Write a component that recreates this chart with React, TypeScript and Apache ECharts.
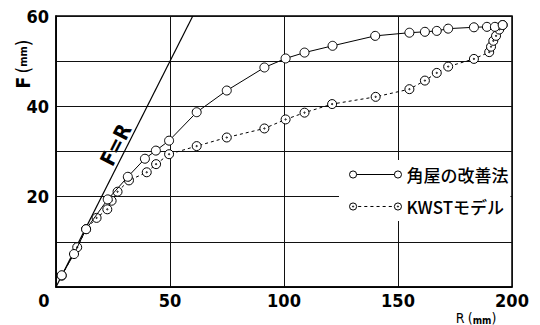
import React, { useEffect, useRef } from 'react';
import * as echarts from 'echarts';

// 角屋の改善法 (solid line)
const kadoyaR = [2.5, 7.9, 13.2, 22.7, 31.5, 39.0, 43.8, 49.6, 61.7, 74.9, 91.4, 100.7, 109.0, 121.3, 140.0, 155.0, 161.8, 167.0, 172.0, 183.3, 189.0, 192.5, 195.9];
const kadoyaF = [2.6, 7.3, 12.8, 19.4, 24.4, 28.4, 30.2, 32.4, 38.7, 43.5, 48.6, 50.6, 51.9, 53.4, 55.6, 56.3, 56.5, 56.7, 57.2, 57.5, 57.6, 57.6, 58.0];
// KWSTモデル (dotted line)
const kwstR = [2.5, 9.3, 13.2, 17.8, 22.5, 24.4, 27.0, 32.0, 39.8, 43.9, 49.6, 61.7, 74.9, 91.4, 100.7, 109.0, 121.1, 140.2, 155.0, 161.8, 167.0, 172.0, 183.3, 190.0, 190.8, 191.8, 193.0, 194.4, 195.9];
const kwstF = [2.5, 8.8, 12.8, 15.3, 17.2, 19.1, 21.1, 23.6, 25.4, 27.2, 29.4, 31.2, 33.1, 35.1, 37.1, 38.6, 40.5, 42.1, 43.8, 45.7, 47.4, 48.8, 50.5, 52.0, 53.2, 54.5, 55.6, 57.0, 58.0];
// F = R reference line
const refR = [0, 60];
const refF = [0, 60];

const seriesNames = ['角屋の改善法', 'KWSTモデル'];
const xTicks = [0, 50, 100, 150, 200];
const yLabelTicks = [20, 40, 60];

const zip = (a: number[], b: number[]) => a.map((v, i) => [v, b[i]]);

const NUM_FONT = "'Liberation Sans Narrow', 'DejaVu Sans Condensed', Roboto, sans-serif";
const CJK_FONT = "'Noto Sans CJK JP', 'Noto Sans', sans-serif";

const dotCircle = 'path://M0,5a5,5 0 1,0 10,0a5,5 0 1,0 -10,0M4.3,5a0.7,0.7 0 1,0 1.4,0a0.7,0.7 0 1,0 -1.4,0';
const legendSolid = 'path://M0.5,4a3.5,3.5 0 1,0 7,0a3.5,3.5 0 1,0 -7,0M7.5,4L44.5,4M44.5,4a3.5,3.5 0 1,0 7,0a3.5,3.5 0 1,0 -7,0';
const legendDotted = 'path://M0.5,4a3.5,3.5 0 1,0 7,0a3.5,3.5 0 1,0 -7,0M3.4,4a0.6,0.6 0 1,0 1.2,0a0.6,0.6 0 1,0 -1.2,0'
  + 'M9,4L12,4M15,4L18,4M21,4L24,4M27,4L30,4M33,4L36,4M39,4L42,4'
  + 'M44.5,4a3.5,3.5 0 1,0 7,0a3.5,3.5 0 1,0 -7,0M47.4,4a0.6,0.6 0 1,0 1.2,0a0.6,0.6 0 1,0 -1.2,0';

export default function App() {
  const ref = useRef<HTMLDivElement>(null);
  useEffect(() => {
    if (!ref.current) return;
    const chart = echarts.init(ref.current, undefined, { renderer: 'svg' });
    chart.setOption({
      animation: false,
      backgroundColor: '#fff',
      grid: { left: 56, top: 16, right: 28, bottom: 38, show: true, borderColor: '#000', borderWidth: 1.5, backgroundColor: 'transparent' },
      xAxis: {
        type: 'value', min: xTicks[0], max: xTicks[xTicks.length - 1], interval: 50,
        axisLine: { show: true, lineStyle: { color: '#000', width: 1.5 } },
        axisTick: { show: false },
        splitLine: { show: true, lineStyle: { color: '#111', width: 1 } },
        axisLabel: {
          color: '#000', fontSize: 18, fontWeight: 'bold', fontFamily: NUM_FONT, margin: 4,
          formatter: (v: number) => (v === 0 ? '{z|0}' : String(v)),
          rich: { z: { fontSize: 18, fontWeight: 'bold', fontFamily: NUM_FONT, color: '#000', padding: [0, 24, 0, 0] } },
        },
      },
      yAxis: {
        type: 'value', min: 0, max: 60, interval: 10,
        axisLine: { show: true, lineStyle: { color: '#000', width: 1.5 } },
        axisTick: { show: false },
        splitLine: { show: true, lineStyle: { color: '#111', width: 1 } },
        axisLabel: {
          color: '#000', fontSize: 18, fontWeight: 'bold', fontFamily: NUM_FONT, margin: 7,
          formatter: (v: number) => (yLabelTicks.includes(v) ? String(v) : ''),
        },
      },
      legend: {
        orient: 'vertical', left: 339, top: 160,
        backgroundColor: '#fff', padding: [6, 2, 6, 10],
        itemWidth: 52, itemHeight: 8, itemGap: 15,
        data: [
          { name: seriesNames[0], icon: legendSolid },
          { name: seriesNames[1], icon: legendDotted },
        ],
        itemStyle: { color: '#fff', borderColor: '#000', borderWidth: 1 },
        textStyle: { color: '#000', fontSize: 17, fontWeight: 500, fontFamily: CJK_FONT, padding: [0, 0, 0, 0] },
        selectedMode: false,
      },
      graphic: [
        {
          type: 'text', x: 116, y: 145, rotation: (63 * Math.PI) / 180,
          style: { text: 'F=R', fill: '#000', font: `bold 21px ${NUM_FONT}`, align: 'center', verticalAlign: 'middle' },
        },
        {
          type: 'text', x: 23, y: 64, rotation: Math.PI / 2,
          style: {
            text: '{a|F} {b|(}{c|mm}{b|)}', align: 'center', verticalAlign: 'middle',
            rich: {
              a: { fontSize: 19, fontWeight: 'bold', fontFamily: NUM_FONT, fill: '#000', verticalAlign: 'middle' },
              b: { fontSize: 19, fontFamily: NUM_FONT, fill: '#000', verticalAlign: 'middle' },
              c: { fontSize: 11, fontWeight: 'bold', fontFamily: NUM_FONT, fill: '#000', verticalAlign: 'middle' },
            },
          },
        },
        {
          type: 'text', x: 476, y: 325,
          style: {
            text: '{a|R} {b|(}{c|mm}{b|)}', align: 'center', verticalAlign: 'bottom',
            rich: {
              a: { fontSize: 14, fontFamily: NUM_FONT, fill: '#000', verticalAlign: 'bottom' },
              b: { fontSize: 14, fontFamily: NUM_FONT, fill: '#000', verticalAlign: 'bottom' },
              c: { fontSize: 10, fontWeight: 'bold', fontFamily: NUM_FONT, fill: '#000', verticalAlign: 'bottom' },
            },
          },
        },
      ],
      series: [
        {
          name: 'F=R', type: 'line', data: zip(refR, refF), symbol: 'none', silent: true,
          lineStyle: { color: '#000', width: 1.2 }, z: 1,
        },
        {
          name: seriesNames[0], type: 'line', data: zip(kadoyaR, kadoyaF),
          symbol: 'circle', symbolSize: 9,
          itemStyle: { color: '#fff', borderColor: '#000', borderWidth: 1 },
          lineStyle: { color: '#000', width: 1 }, z: 3,
        },
        {
          name: seriesNames[1], type: 'line', data: zip(kwstR, kwstF),
          symbol: dotCircle, symbolSize: 9,
          itemStyle: { color: '#fff', borderColor: '#000', borderWidth: 1 },
          lineStyle: { color: '#000', width: 1, type: [3, 3] }, z: 2,
        },
      ],
    });
    return () => chart.dispose();
  }, []);
  return <div ref={ref} style={{ position: 'fixed', left: 0, top: 0, width: 540, height: 325 }} />;
}
